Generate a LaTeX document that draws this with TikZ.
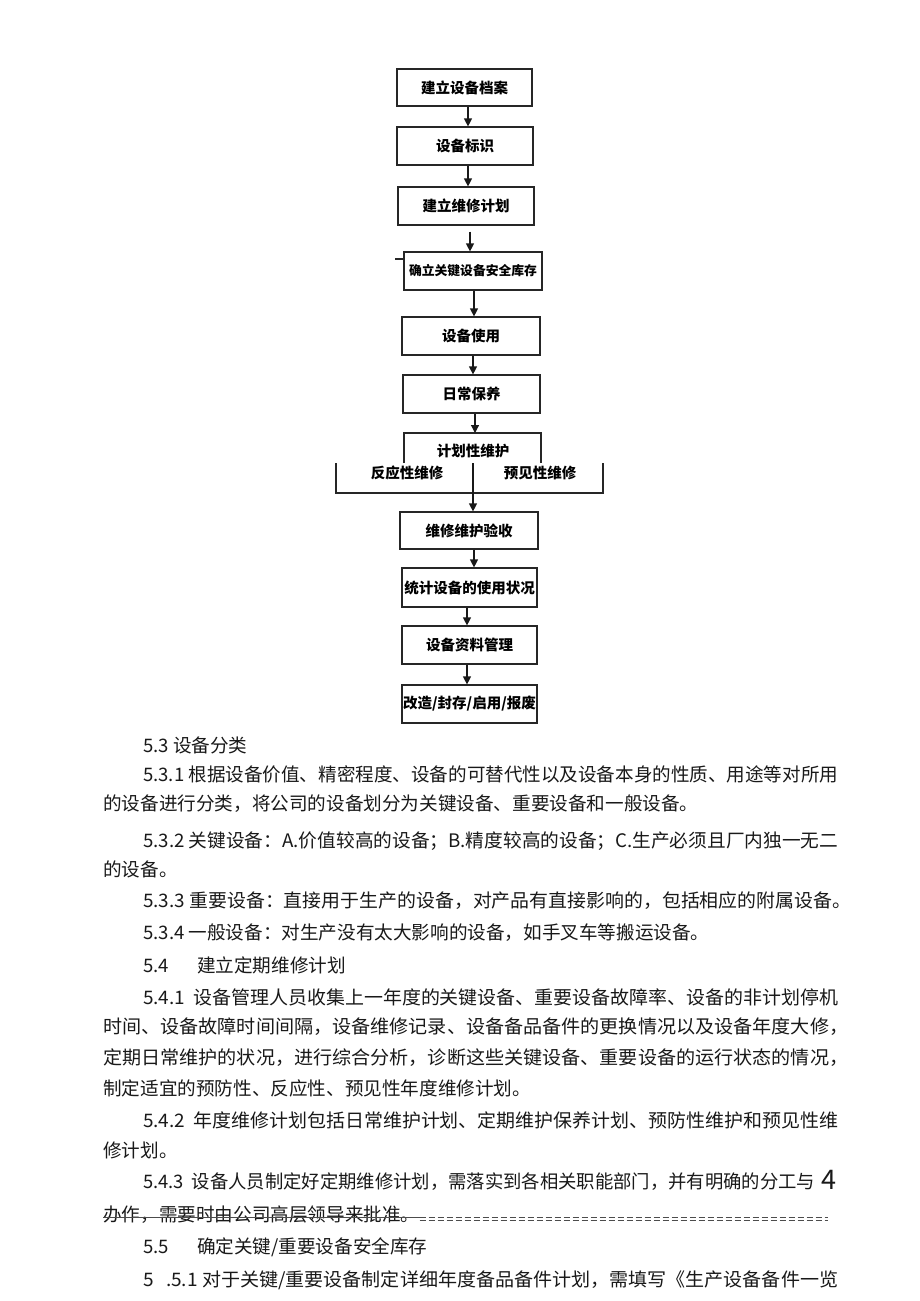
\documentclass[tikz,border=0pt]{standalone}
\usepackage{fontspec}
\usepackage{graphicx}
\setmainfont{Noto Sans CJK SC}
\usetikzlibrary{arrows.meta}
\newcommand{\fl}[2]{\resizebox{#1pt}{\height}{#2}}
\begin{document}
\begin{tikzpicture}[x=1pt,y=-1pt,
  box/.style={draw=black!85, line width=1.2pt, inner sep=0pt, font=\fontsize{14.5}{16}\selectfont\bfseries},
  lbl/.style={inner sep=0pt, font=\fontsize{14.5}{16}\selectfont\bfseries},
  arr/.style={draw=black!90, line width=1.2pt, -{Triangle[length=8pt,width=8pt]}},
  ln/.style={draw=black!85, line width=1.2pt},
  para/.style={anchor=west, inner sep=0pt, text=black!90, font=\fontsize{18.6}{20}\selectfont}]
\path[use as bounding box, fill=white] (0,0) rectangle (920,1301);

% flowchart boxes
\node[box, minimum width=135pt, minimum height=37pt] (b1) at (464.5,87.5) {建立设备档案};
\node[box, minimum width=136pt, minimum height=38pt] (b2) at (465,146) {设备标识};
\node[box, minimum width=136pt, minimum height=38pt] (b3) at (466,206) {建立维修计划};
\node[box, minimum width=138pt, minimum height=38pt, font=\fontsize{12.8}{14}\selectfont\bfseries] (b4) at (473,271) {确立关键设备安全库存};
\node[box, minimum width=138pt, minimum height=38pt] (b5) at (471,336) {设备使用};
\node[box, minimum width=137pt, minimum height=38pt] (b6) at (471.5,394) {日常保养};
\node[lbl] (b7) at (473,451) {计划性维护};
\coordinate (b7top) at (475,433);
\node[lbl] (r1) at (407,473) {反应性维修};
\node[lbl] (r2) at (540,473) {预见性维修};
\coordinate (mid) at (473,463);
\node[box, minimum width=138pt, minimum height=37pt] (b8) at (469,530.5) {维修维护验收};
\node[box, minimum width=135pt, minimum height=39pt] (b9) at (469.5,587.5) {统计设备的使用状况};
\node[box, minimum width=135pt, minimum height=38pt] (b10) at (469.5,645) {设备资料管理};
\node[box, minimum width=135pt, minimum height=38pt] (b11) at (469.5,704) {改造/封存/启用/报废};

% open boxes around the maintenance types
\draw[ln] (404,463) -- (404,433) -- (541,433) -- (541,463);
\draw[ln] (336,463) -- (336,493) -- (603,493) -- (603,463);
\draw[ln] (mid) -- (473,493);
% small tick at left of b4
\coordinate (tk) at (395,259);
\draw[ln] (tk) -- (tk -| b4.west);

% arrows
\draw[arr] ([xshift=3.5pt]b1.south) -- ([xshift=3pt]b2.north);
\draw[arr] ([xshift=3pt]b2.south) -- ([xshift=2pt]b3.north);
\draw[arr, shorten <=6pt] ([xshift=4pt]b3.south) -- ([xshift=-3pt]b4.north);
\draw[arr] ([xshift=1pt]b4.south) -- ([xshift=3pt]b5.north);
\draw[arr] ([xshift=2pt]b5.south) -- ([xshift=1.5pt]b6.north);
\draw[arr] ([xshift=3.5pt]b6.south) -- (b7top);
\draw[arr] (mid) -- ([xshift=4pt]b8.north);
\draw[arr] ([xshift=5pt]b8.south) -- ([xshift=4.5pt]b9.north);
\draw[arr] ([xshift=-2.5pt]b9.south) -- ([xshift=-2.5pt]b10.north);
\draw[arr] ([xshift=-2.5pt]b10.south) -- ([xshift=-2.5pt]b11.north);

% body text
\node[para] (t1) at (143,745) {5.3 设备分类};
\node[para] (t2) at (143,774) {\fl{695}{5.3.1 根据设备价值、精密程度、设备的可替代性以及设备本身的性质、用途等对所用}};
\node[para] (t3) at (103,804) {的设备进行分类，将公司的设备划分为关键设备、重要设备和一般设备。};
\node[para] (t4) at (143,841) {\fl{695}{5.3.2 关键设备：A.价值较高的设备；B.精度较高的设备；C.生产必须且厂内独一无二}};
\node[para] (t5) at (103,869) {的设备。};
\node[para] (t6) at (143,901) {\fl{708}{5.3.3 重要设备：直接用于生产的设备，对产品有直接影响的，包括相应的附属设备。}};
\node[para] (t7) at (143,933) {5.3.4 一般设备：对生产没有太大影响的设备，如手叉车等搬运设备。};
\node[para] (t8) at (143,965) {5.4\hspace{28pt}建立定期维修计划};
\node[para] (t9) at (143,997) {\fl{695}{5.4.1\hspace{8pt}设备管理人员收集上一年度的关键设备、重要设备故障率、设备的非计划停机}};
\node[para] (t10) at (103,1027) {\fl{745}{时间、设备故障时间间隔，设备维修记录、设备备品备件的更换情况以及设备年度大修，}};
\node[para] (t11) at (103,1058) {\fl{745}{定期日常维护的状况，进行综合分析，诊断这些关键设备、重要设备的运行状态的情况，}};
\node[para] (t12) at (103,1088) {制定适宜的预防性、反应性、预见性年度维修计划。};
\node[para] (t13) at (143,1120) {\fl{695}{5.4.2\hspace{8pt}年度维修计划包括日常维护计划、定期维护保养计划、预防性维护和预见性维}};
\node[para] (t14) at (103,1150) {修计划。};
\node[para] (t15) at (143,1182) {\fl{672}{5.4.3\hspace{8pt}设备人员制定好定期维修计划，需落实到各相关职能部门，并有明确的分工与}};
\node[para, font=\fontsize{27}{28}\selectfont] (t16) at (821,1180) {4};
\node[para] (t17) at (103,1215) {办作，需要时由公司高层领导来批准。};
\coordinate (s1) at (103,1217);
\coordinate (s2) at (828,1217);
\draw[black!70, line width=0.8pt] (s1) -- (t17.east |- s1);
\draw[black!70, line width=0.8pt, dash pattern=on 6pt off 3pt] (t17.east |- s1) -- (s2);
\draw[black!70, line width=0.8pt, dash pattern=on 6pt off 3pt] ([yshift=-3pt]t17.east |- s1) -- ([yshift=-3pt]s2);
\node[para] (t18) at (143,1247) {5.5\hspace{28pt}确定关键/重要设备安全库存};
\node[para] (t19) at (143,1280) {\fl{695}{5\hspace{12pt}.5.1 对于关键/重要设备制定详细年度备品备件计划，需填写《生产设备备件一览}};
\end{tikzpicture}
\end{document}
